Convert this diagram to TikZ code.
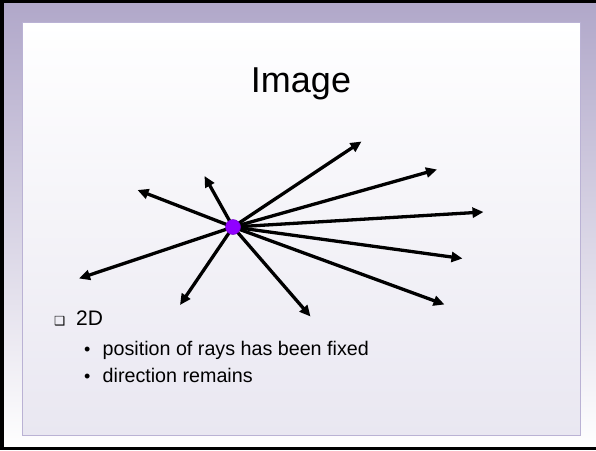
\documentclass[tikz,border=0pt]{standalone}
\usepackage{fontspec}
\setmainfont{Liberation Sans}
\newfontfamily\symfont{DejaVu Sans}
\usetikzlibrary{arrows.meta}
\definecolor{framepurple}{RGB}{176,167,201}
\definecolor{panelbottom}{RGB}{233,231,241}
\definecolor{panelline}{RGB}{186,178,212}
\definecolor{dotviolet}{RGB}{144,0,255}
\begin{document}
\begin{tikzpicture}[x=1pt,y=-1pt,
  ray/.style={line width=3.3pt,-{Triangle[length=11pt,width=10pt]}},
  txt/.style={inner sep=0pt,anchor=base west,text=black}]
\useasboundingbox (0,0) rectangle (596,450);
% outer frame
\shade[top color=framepurple,bottom color=white] (0,0) rectangle (596,450);
% panel
\shade[top color=white,bottom color=panelbottom] (22,22) rectangle (580,435);
\draw[panelline,line width=1pt] (22,22) rectangle (580,435);
% black border (left, top, bottom)
\fill[black] (0,0) rectangle (4,450);
\fill[black] (0,0) rectangle (596,3);
\fill[black] (0,447) rectangle (596,450);
% title
\node[inner sep=0pt,anchor=base] (title) at (301,92) {\fontsize{36}{40}\selectfont Image};
% rays
\coordinate (c) at (233,227);
\coordinate (t1) at (361.5,141.5);
\coordinate (t2) at (437,169.5);
\coordinate (t3) at (483.5,212);
\coordinate (t4) at (462.5,258.5);
\coordinate (t5) at (444.5,304.5);
\coordinate (t6) at (310.5,316.5);
\coordinate (t7) at (180,305);
\coordinate (t8) at (79,278.5);
\coordinate (t9) at (137.5,190);
\coordinate (t10) at (204.5,176);
\foreach \t in {t1,t2,t3,t4,t5,t6,t7,t8,t9,t10} \draw[ray] (c) -- (\t);
\node[circle,fill=dotviolet,draw=dotviolet!80!black,line width=0.5pt,minimum size=15pt,inner sep=0pt] (dot) at (c) {};
% bullets
\node[txt] (b0) at (54,325) {\symfont\fontsize{12.5}{14}\selectfont ❑};
\node[txt] (l0) at (76,325) {\fontsize{21}{24}\selectfont 2D};
\node[txt] (b1) at (84,355) {\fontsize{18}{20}\selectfont •};
\node[txt] (l1) at (102.5,355) {\fontsize{19.7}{24}\selectfont position of rays has been fixed};
\node[txt] (b2) at (84,382) {\fontsize{18}{20}\selectfont •};
\node[txt] (l2) at (102.5,382) {\fontsize{19.7}{24}\selectfont direction remains};
\end{tikzpicture}
\end{document}
